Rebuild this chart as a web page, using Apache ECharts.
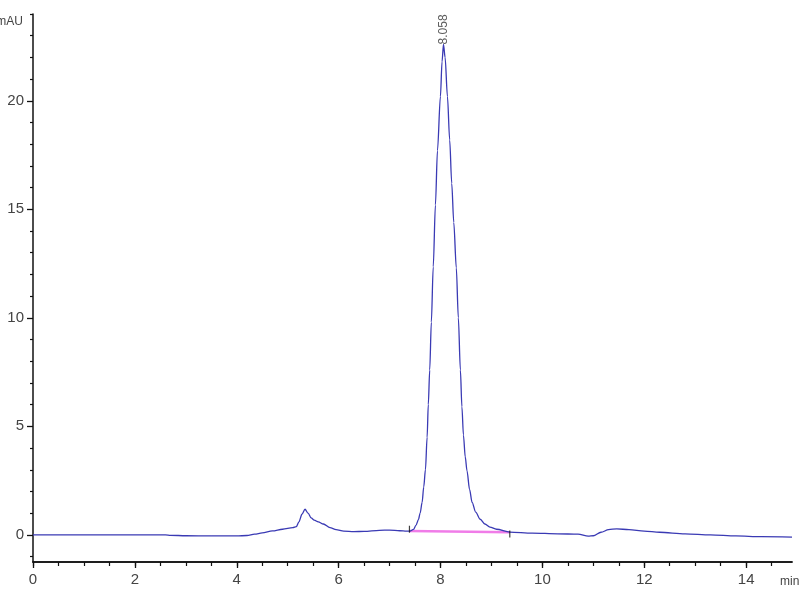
<!DOCTYPE html>
<html>
<head>
<meta charset="utf-8">
<script src="https://cdn.jsdelivr.net/npm/echarts@6.0.0/dist/echarts.min.js"></script>
<style>
    html, body { margin: 0; padding: 0; background: #fff; }
    #chart { width: 800px; height: 600px; }
</style>
</head>
<body>
<div id="chart"></div>
<script>
// chromatogram trace, [min, mAU]
const signal = [
    [0, 0], [1, 0], [2, 0], [2.6, 0], [2.7, -0.02], [3.0, -0.04], [3.5, -0.05], [4.0, -0.05],
    [4.2, -0.03], [4.35, 0.03], [4.5, 0.09], [4.7, 0.18], [4.9, 0.26], [5.1, 0.33], [5.17, 0.38],
    [5.22, 0.6], [5.28, 0.95], [5.34, 1.18], [5.4, 1.0], [5.46, 0.78], [5.52, 0.68], [5.6, 0.6],
    [5.7, 0.5], [5.83, 0.33], [5.95, 0.24], [6.1, 0.17], [6.3, 0.15], [6.5, 0.16], [6.8, 0.21],
    [7.0, 0.22], [7.2, 0.19], [7.33, 0.17], [7.4, 0.17], [7.47, 0.25], [7.52, 0.45], [7.566, 0.7],
    [7.6, 1.0], [7.639, 1.5], [7.67, 2.2], [7.704, 3.0], [7.737, 4.5], [7.76, 6.0], [7.788, 7.6],
    [7.82, 9.8], [7.857, 12.35], [7.9, 15.2], [7.94, 17.7], [7.998, 20.2], [8.03, 21.8],
    [8.058, 22.6], [8.09, 22.0], [8.136, 20.2], [8.18, 18.2], [8.22, 16.2], [8.26, 14.4],
    [8.31, 12.3], [8.35, 10.0], [8.39, 7.6], [8.42, 5.9], [8.45, 4.6], [8.485, 3.6], [8.52, 2.95],
    [8.57, 2.1], [8.62, 1.5], [8.69, 1.05], [8.78, 0.72], [8.87, 0.5], [8.97, 0.36], [9.1, 0.26],
    [9.36, 0.13], [9.8, 0.08], [10.3, 0.05], [10.7, 0.03], [10.9, -0.06], [11.0, -0.04],
    [11.15, 0.12], [11.3, 0.24], [11.46, 0.28], [11.7, 0.24], [12.0, 0.17], [12.3, 0.12],
    [12.8, 0.05], [13.3, 0.0], [13.8, -0.05], [14.3, -0.08], [14.9, -0.1]
];
// integration baseline under the main peak
const baseline = [[7.39, 0.18], [9.36, 0.12]];
const baselineTicks = [[7.39, 0.26], [9.36, 0.04]];
const peakLabel = [[8.058, 22.6, '8.058']];

const xMajor = [0, 2, 4, 6, 8, 10, 12, 14];
const xMinor = [0.5, 1, 1.5, 2.5, 3, 3.5, 4.5, 5, 5.5, 6.5, 7, 7.5, 8.5, 9, 9.5, 10.5, 11, 11.5, 12.5, 13, 13.5, 14.5];
const yMajor = [0, 5, 10, 15, 20];
const yMinor = [-1, 1, 2, 3, 4, 6, 7, 8, 9, 11, 12, 13, 14, 16, 17, 18, 19, 21, 22, 23, 24];

const FONT = '"Liberation Sans Narrow", "Arial Narrow", "Liberation Sans", sans-serif';
const X_MIN = 0, X_MAX = 14.9, Y_MIN = -1.25, Y_MAX = 24;
const GRID = { left: 33, right: 8, top: 14, bottom: 38, containLabel: false, outerBoundsMode: 'none' };

var myChart = echarts.init(document.getElementById('chart'));
var option = {
    animation: false,
    // second grid on the same spot only carries the extra ticks
    grid: [GRID, Object.assign({}, GRID)],
    xAxis: [{
        type: 'value',
        gridIndex: 0,
        min: X_MIN,
        max: X_MAX,
        name: 'min',
        nameLocation: 'end',
        nameGap: -12,
        nameTextStyle: { fontFamily: FONT, fontSize: 12, color: '#444', align: 'left', verticalAlign: 'top', padding: [14, 0, 0, 0] },
        axisLine: { show: true, onZero: false, lineStyle: { color: '#111', width: 1.5 } },
        axisTick: { show: true, customValues: xMajor.concat(xMinor), length: 4, lineStyle: { color: '#111', width: 1.2 } },
        axisLabel: { customValues: xMajor, fontFamily: FONT, fontSize: 15, color: '#444', margin: 10 },
        splitLine: { show: false }
    }, {
        type: 'value',
        gridIndex: 1,
        min: X_MIN,
        max: X_MAX,
        position: 'bottom',
        axisLine: { show: true, onZero: false, lineStyle: { color: '#111', width: 1.5 } },
        axisTick: { show: true, customValues: xMajor, length: 6, lineStyle: { color: '#111', width: 1.3 } },
        axisLabel: { show: false },
        splitLine: { show: false }
    }],
    yAxis: [{
        type: 'value',
        gridIndex: 0,
        min: Y_MIN,
        max: Y_MAX,
        name: 'mAU',
        nameLocation: 'end',
        nameGap: -8,
        nameTextStyle: { fontFamily: FONT, fontSize: 12, color: '#444', align: 'right', verticalAlign: 'middle', padding: [0, 10, 0, 0] },
        axisLine: { show: true, onZero: false, lineStyle: { color: '#111', width: 1.5 } },
        axisTick: { show: true, customValues: yMajor, length: 6, lineStyle: { color: '#111', width: 1.3 } },
        axisLabel: { customValues: yMajor, fontFamily: FONT, fontSize: 15, color: '#444', margin: 9 },
        splitLine: { show: false }
    }, {
        type: 'value',
        gridIndex: 1,
        min: Y_MIN,
        max: Y_MAX,
        position: 'left',
        axisLine: { show: false, onZero: false },
        axisTick: { show: true, customValues: yMinor, length: 3, lineStyle: { color: '#111', width: 1.2 } },
        axisLabel: { show: false },
        splitLine: { show: false }
    }],
    series: [{
        name: 'baseline',
        type: 'line',
        data: baseline,
        symbol: 'none',
        lineStyle: { color: '#f07ce8', width: 2.5 },
        z: 2
    }, {
        name: 'signal',
        type: 'line',
        data: signal,
        symbol: 'none',
        smooth: 0.3,
        smoothMonotone: 'x',
        lineStyle: { color: '#3a3ab4', width: 1.3 },
        z: 3
    }, {
        name: 'ticks',
        type: 'scatter',
        data: baselineTicks,
        symbol: 'rect',
        symbolSize: [1.2, 7],
        itemStyle: { color: '#111' },
        z: 4
    }, {
        name: 'label',
        type: 'scatter',
        data: peakLabel,
        symbolSize: 0,
        label: {
            show: true,
            position: 'top',
            distance: 0,
            rotate: 90,
            align: 'left',
            verticalAlign: 'middle',
            formatter: (p) => p.data[2],
            fontFamily: '"Liberation Sans", sans-serif',
            fontSize: 12,
            color: '#333'
        },
        z: 5
    }]
};
option && myChart.setOption(option);
</script>
</body>
</html>
